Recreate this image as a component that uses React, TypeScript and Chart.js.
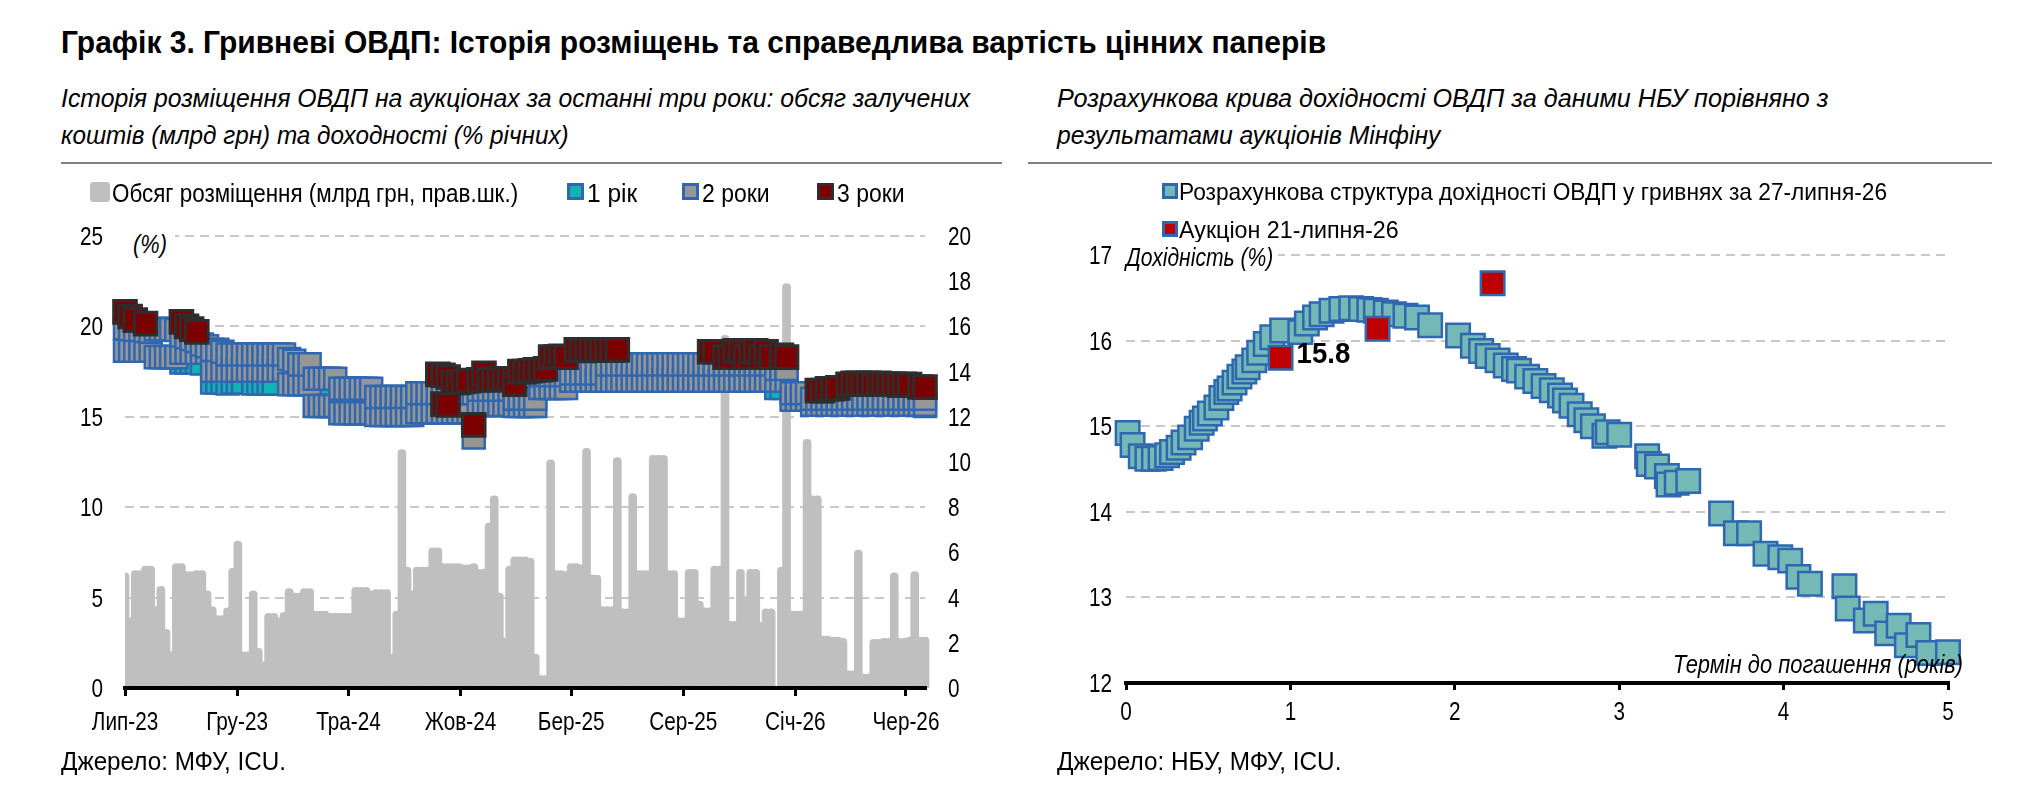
import React, { useEffect, useLayoutEffect, useRef } from 'react';
import { Chart, registerables } from 'chart.js';

Chart.register(...registerables);

const TEXT_FONT = "'Liberation Sans', Arial, sans-serif";
const TICK_SIZE = 25;
const TICK_SX = 0.83; // horizontal condensing of tick labels
const CAP_HALF = 9; // baseline offset that centres cap height on a pixel

// ---------- Left chart: auction history (weekly, starting July 2023) ----------
const monthTickWeeks = [0, 21.86, 43.57, 65.43, 87, 108.86, 130.71, 152.29];
const monthTickLabels = ['Лип-23', 'Гру-23', 'Тра-24', 'Жов-24', 'Бер-25', 'Сер-25', 'Січ-26', 'Чер-26'];

// Weekly placement volume, bn UAH (right axis); null = no auction that week
const placementVolume: (number | null)[] = [
  5.1, 3.1, 5.2, 5.2, 5.4, 5.4, 3.6, 4.5, 2.6, 1.6,
  5.5, 5.5, 5.15, 5.15, 5.2, 5.2, 4.3, 3.6, 3.2, 3.2,
  3.55, 5.3, 6.5, 1.6, 1.6, 4.3, 1.75, 1.15, 3.3, 3.3,
  3.1, 3.35, 4.4, 4.2, 4.2, 4.4, 4.4, 3.4, 3.4, 3.4,
  3.3, 3.3, 3.3, 3.3, 3.3, 4.45, 4.45, 4.45, 4.3, 4.35,
  4.35, 4.35, 1.5, 3.4, 10.55, 5.35, 4.3, 5.35, 5.35, 5.35,
  6.2, 6.2, 5.5, 5.5, 5.5, 5.5, 5.45, 5.45, 5.5, 5.25,
  5.25, 7.3, 8.5, 4.2, 2.2, 5.4, 5.8, 5.8, 5.8, 5.75,
  1.5, 0.55, 0.55, 10.1, 5.2, 5.2, 5.15, 5.5, 5.5, 5.45,
  10.6, 5.0, 5.0, 3.6, 3.6, 3.6, 10.2, 3.5, 3.5, 8.6,
  5.2, 5.2, 5.2, 10.3, 10.3, 10.3, 5.2, 5.2, 3.1, 3.1,
  5.25, 5.25, 3.85, 3.55, 3.55, 5.4, 5.4, 15.6, 2.95, 2.95,
  5.25, 4.05, 5.25, 5.25, 2.9, 3.5, 3.5, null, 5.35, 17.9,
  3.4, 3.4, 3.4, 11.0, 8.5, 8.5, 2.3, 2.3, 2.25, 2.25,
  2.2, 0.76, 0.76, 6.1, 0.62, 0.62, 2.15, 2.15, 2.2, 2.2,
  5.1, 2.2, 2.2, 2.25, 5.15, 2.25, 2.25,
];

// 2-year bonds: highest and lowest accepted yield each week, %
const yield2yHigh = [
  19.9, 19.85, 19.8, 19.8, 19.75, 19.7, 19.85, 19.85, 19.85, 19.85, 19.8,
  19.5, 19.4, 19.3, 19.2, 19.0, 18.9, 18.7, 18.7, 18.6, 18.45,
  18.45, 18.45, 18.45, 18.45, 18.45, 18.45, 18.45, 18.45, 18.45, 18.45, 18.45,
  18.2, 18.1, 17.9, 17.9, 17.9,
  17.1, 17.1, 17.1, 17.1, 17.1,
  16.55, 16.55, 16.55, 16.55, 16.55, 16.55, 16.55,
  16.1, 16.1, 16.1, 16.1, 16.1, 16.1, 16.1, 16.1,
  16.3, 16.3, 16.3, 16.3, 16.3, 16.3, 16.3, 16.3, 16.3, 16.3, 16.3,
  16.3,
  16.5, 16.5, 16.5, 16.5, 16.5, 16.5, 16.5,
  16.0, 16.0, 16.0, 16.0, 16.0,
  17.3, 17.3, 17.3, 17.3, 17.3, 17.3,
  17.4, 17.4, 17.4, 17.4, 17.4, 17.4, 17.4,
  17.9, 17.9, 17.9, 17.9, 17.9, 17.9, 17.9, 17.9, 17.9, 17.9, 17.9,
  17.9, 17.9, 17.9, 17.9, 17.9, 17.9, 17.9, 17.9, 17.9, 17.9, 17.9,
  17.9, 17.9, 17.9, 17.9, 17.9, 17.9, 17.9, 17.9, 17.9, 17.9, 17.9,
  17.65, 17.65, 17.65,
  16.3, 16.3, 16.3, 16.3,
  16.0, 16.0, 16.0, 16.0, 16.0, 16.0, 16.0, 16.0, 16.0, 16.0, 16.0, 16.0,
  16.0, 16.0, 16.0, 16.0, 16.0, 16.0, 16.0, 16.0, 16.0, 16.0, 16.0,
];
const yield2yLow = [
  18.65, 18.65, 18.65, 18.65, 18.65, 18.65,
  18.3, 18.3, 18.3, 18.3, 18.3,
  18.55, 18.55, 18.55, 18.55, 18.55, 18.55,
  17.55, 17.55, 17.55, 17.55, 17.55, 17.55, 17.55, 17.55, 17.55, 17.55, 17.55, 17.55, 17.55, 17.55, 17.55,
  16.8, 16.8, 16.8, 16.8, 16.8,
  15.6, 15.6, 15.6, 15.6, 15.6,
  15.2, 15.2, 15.2, 15.2, 15.2, 15.2, 15.2,
  15.1, 15.1, 15.1, 15.1, 15.1, 15.1, 15.1, 15.1,
  15.25, 15.25, 15.25, 15.25, 15.25, 15.25, 15.25, 15.25, 15.25, 15.25, 15.25,
  13.85,
  15.65, 15.65, 15.65, 15.65, 15.65, 15.65, 15.65,
  15.6, 15.6, 15.6, 15.6, 15.6,
  16.6, 16.6, 16.6, 16.6, 16.6, 16.6,
  17.0, 17.0, 17.0, 17.0, 17.0, 17.0, 17.0,
  17.0, 17.0, 17.0, 17.0, 17.0, 17.0, 17.0, 17.0, 17.0, 17.0, 17.0,
  17.0, 17.0, 17.0, 17.0, 17.0, 17.0, 17.0, 17.0, 17.0, 17.0, 17.0,
  17.0, 17.0, 17.0, 17.0, 17.0, 17.0, 17.0, 17.0, 17.0, 17.0, 17.0,
  17.0, 17.0, 17.0,
  15.95, 15.95, 15.95, 15.95,
  15.67, 15.67, 15.67, 15.67, 15.67, 15.67, 15.67, 15.67, 15.67, 15.67, 15.67, 15.67,
  15.67, 15.67, 15.67, 15.67, 15.67, 15.67, 15.67, 15.67, 15.67, 15.67, 15.67,
];

// 1-year bonds: [week, yield %]
const yield1y: [number, number][] = [
  [11, 18.0], [12, 18.0], [13, 18.0], [14, 18.0], [15, 17.95],
  [17, 16.9], [18, 16.9], [19, 16.9], [20, 16.85], [21, 16.9], [22, 16.9], [23, 16.9],
  [25, 16.85], [26, 16.85], [27, 16.85], [28, 16.85], [29, 16.85],
  [38, 15.9], [39, 15.9], [43, 15.4], [44, 15.4], [65, 15.4], [75, 16.6],
  [127, 16.6], [128, 16.6], [156, 15.6],
];

// 3-year bonds: [week, yield %]
const yield3y: [number, number][] = [
  [0, 20.8], [1, 20.55], [2, 20.35], [4, 20.15],
  [11, 20.25], [12, 20.0], [13, 19.85], [14, 19.7],
  [61, 17.35], [62, 17.3], [62, 15.7], [63, 17.2], [63, 15.65], [64, 16.9], [65, 16.9],
  [66, 16.95], [67, 17.0], [68, 14.55], [69, 17.05], [70, 17.4], [71, 17.05], [72, 17.05],
  [73, 17.1], [74, 17.1], [75, 17.1], [76, 16.8], [77, 17.5], [78, 17.5], [79, 17.55],
  [80, 17.6], [81, 17.6], [82, 17.65], [83, 18.3], [84, 18.3], [85, 18.35], [86, 18.3],
  [88, 18.7], [89, 18.7], [90, 18.7], [91, 18.7], [92, 18.7], [93, 18.7], [94, 18.7],
  [95, 18.7], [96, 18.7],
  [114, 18.6], [115, 18.6], [117, 18.3], [118, 18.3], [119, 18.65], [120, 18.6], [121, 18.3],
  [122, 18.6], [123, 18.65], [124, 18.3], [125, 18.6], [126, 18.3], [128, 18.4], [129, 18.3],
  [135, 16.45], [136, 16.45], [137, 16.55], [138, 16.55], [139, 16.6], [141, 16.8], [142, 16.85],
  [143, 16.85], [144, 16.8], [145, 16.85], [146, 16.8], [147, 16.85], [148, 16.8], [149, 16.8],
  [150, 16.8], [151, 16.75], [152, 16.8], [153, 16.78], [155, 16.65], [156, 16.64],
];

// ---------- Right chart: NBU fair-value yield curve vs. auction ----------
const curveTerm = [
  0.01, 0.04, 0.09, 0.13, 0.17, 0.21, 0.25, 0.28, 0.32, 0.35,
  0.39, 0.43, 0.46, 0.48, 0.51, 0.55, 0.58, 0.61, 0.63, 0.66,
  0.69, 0.72, 0.74, 0.78, 0.81, 0.85, 0.89, 0.95, 1.06, 1.10,
  1.15, 1.19, 1.25, 1.31, 1.37, 1.43, 1.48, 1.52, 1.58, 1.63,
  1.70, 1.77, 1.85, 2.02, 2.11, 2.16, 2.20, 2.26, 2.31, 2.36,
  2.39, 2.44, 2.49, 2.54, 2.59, 2.64, 2.67, 2.71, 2.76, 2.80,
  2.84, 2.91, 2.93, 3.00, 3.17, 3.18, 3.23, 3.29, 3.30, 3.35,
  3.42, 3.62, 3.71, 3.79, 3.89, 3.98, 4.04, 4.09, 4.16, 4.37,
  4.39, 4.50, 4.56, 4.63, 4.70, 4.75, 4.82, 4.88, 5.00,
];
const curveYield = [
  14.92, 14.78, 14.65, 14.62, 14.62, 14.63, 14.66, 14.7, 14.75, 14.81,
  14.87, 14.97, 15.04, 15.09, 15.15, 15.22, 15.33, 15.4, 15.44, 15.51,
  15.58, 15.64, 15.69, 15.77, 15.86, 15.96, 16.04, 16.12, 16.1, 16.2,
  16.27, 16.31, 16.35, 16.37, 16.38, 16.37, 16.36, 16.35, 16.33, 16.31,
  16.29, 16.27, 16.18, 16.06, 15.94, 15.88, 15.82, 15.77, 15.71, 15.67,
  15.65, 15.58, 15.53, 15.47, 15.42, 15.36, 15.3, 15.24, 15.14, 15.07,
  15.0, 14.89, 14.93, 14.9, 14.65, 14.56, 14.53, 14.42, 14.32, 14.34,
  14.36, 13.98, 13.75, 13.75, 13.51, 13.47, 13.43, 13.24, 13.16, 13.13,
  12.87, 12.73, 12.81, 12.58, 12.67, 12.44, 12.56, 12.35, 12.36,
];
const auctionTerm = [0.94, 1.53, 2.23];
const auctionYield = [15.8, 16.14, 16.67];

// ---------- palette ----------
const BAR_GREY = '#BFBFBF';
const BLUE_EDGE = '#2F67B1';
const TEAL_1Y = '#12B3B3';
const GREY_2Y = '#969696';
const RED_3Y = '#7B0000';
const DARK_EDGE = '#2E2E2E';
const CURVE_FILL = '#74B9B5';
const AUCTION_RED = '#C00000';
const GRID = '#C8C8C8';

// Draws tick labels slightly condensed, at the positions given by each scale
const condensedTicks = {
  id: 'condensedTicks',
  afterDraw(chart: any, _args: any, opts: any) {
    const ctx = chart.ctx;
    const area = chart.chartArea;
    ctx.save();
    ctx.fillStyle = '#000';
    ctx.font = `${TICK_SIZE}px ${TEXT_FONT}`;
    ctx.textBaseline = 'alphabetic';
    for (const spec of opts.axes) {
      const scale = chart.scales[spec.id];
      scale.ticks.forEach((tick: any, i: number) => {
        const label = spec.labels ? spec.labels[i] : String(tick.value);
        const p = scale.getPixelForValue(tick.value);
        let x = p;
        let y = area.bottom + spec.gap;
        let align = 'center';
        if (spec.side === 'left') {
          x = area.left - spec.gap;
          y = p + CAP_HALF;
          align = 'right';
        } else if (spec.side === 'right') {
          x = area.right + spec.gap;
          y = p + CAP_HALF;
          align = 'left';
        }
        ctx.save();
        ctx.translate(x, y);
        ctx.scale(TICK_SX, 1);
        ctx.textAlign = align;
        ctx.fillText(label, 0, 0);
        ctx.restore();
      });
    }
    ctx.restore();
  },
};

function makeLeftChart(canvas: HTMLCanvasElement) {
  const twoYear: { x: number; y: number }[] = [];
  yield2yLow.forEach((v, i) => {
    twoYear.push({ x: i, y: v });
    twoYear.push({ x: i, y: yield2yHigh[i] });
  });
  const bars = placementVolume
    .map((v, i) => (v == null ? null : { x: i, y: v }))
    .filter((p) => p !== null) as { x: number; y: number }[];

  return new Chart(canvas, {
    type: 'scatter',
    data: {
      datasets: [
        {
          type: 'bar',
          label: 'Обсяг розміщення (млрд грн, прав.шк.)',
          data: bars,
          yAxisID: 'y1',
          backgroundColor: BAR_GREY,
          barThickness: 8,
          borderRadius: { topLeft: 4, topRight: 4, bottomLeft: 0, bottomRight: 0 },
          borderSkipped: 'start',
          order: 4,
          clip: { left: 0, top: false, right: false, bottom: 0 },
        } as any,
        {
          type: 'scatter',
          label: '1 рік',
          data: yield1y.map(([x, y]) => ({ x, y })),
          yAxisID: 'y',
          pointStyle: 'rect',
          pointRadius: 15.6,
          pointBackgroundColor: TEAL_1Y,
          pointBorderColor: BLUE_EDGE,
          pointBorderWidth: 2.5,
          order: 3,
          clip: false,
        } as any,
        {
          type: 'scatter',
          label: '2 роки',
          data: twoYear,
          yAxisID: 'y',
          pointStyle: 'rect',
          pointRadius: 15.6,
          pointBackgroundColor: GREY_2Y,
          pointBorderColor: BLUE_EDGE,
          pointBorderWidth: 2.5,
          order: 2,
          clip: false,
        } as any,
        {
          type: 'scatter',
          label: '3 роки',
          data: yield3y.map(([x, y]) => ({ x, y })),
          yAxisID: 'y',
          pointStyle: 'rect',
          pointRadius: 16,
          pointBackgroundColor: RED_3Y,
          pointBorderColor: DARK_EDGE,
          pointBorderWidth: 3,
          order: 1,
          clip: false,
        } as any,
      ],
    },
    options: {
      responsive: false,
      animation: false,
      devicePixelRatio: 1,
      events: [],
      layout: { padding: { top: 36, left: 0, right: 0, bottom: 0 } },
      plugins: {
        legend: { display: false },
        tooltip: { enabled: false },
        condensedTicks: {
          axes: [
            { id: 'x', side: 'bottom', gap: 42, labels: monthTickLabels },
            { id: 'y', side: 'left', gap: 22 },
            { id: 'y1', side: 'right', gap: 23 },
          ],
        },
      },
      scales: {
        x: {
          type: 'linear',
          min: 0,
          max: 156,
          offset: false,
          afterBuildTicks: (axis: any) => {
            axis.ticks = monthTickWeeks.map((value) => ({ value }));
          },
          afterFit: (axis: any) => {
            axis.height = 72;
          },
          ticks: { display: false, autoSkip: false, maxRotation: 0, minRotation: 0 },
          grid: {
            display: true,
            offset: false,
            drawOnChartArea: false,
            drawTicks: true,
            tickLength: 8,
            color: '#000',
            lineWidth: 3,
          },
          border: { display: true, color: '#000', width: 4, z: 1 },
        },
        y: {
          position: 'left',
          min: 0,
          max: 25,
          afterFit: (axis: any) => {
            axis.width = 125;
          },
          ticks: { display: false, stepSize: 5 },
          grid: {
            color: (ctx: any) => (ctx.tick && ctx.tick.value === 0 ? 'rgba(0,0,0,0)' : GRID),
            lineWidth: 2,
            drawTicks: false,
          },
          border: { display: false, dash: [9, 6] },
        },
        y1: {
          position: 'right',
          min: 0,
          max: 20,
          afterFit: (axis: any) => {
            axis.width = 86;
          },
          ticks: { display: false, stepSize: 2 },
          grid: { display: false, drawTicks: false },
          border: { display: false },
        },
      },
    } as any,
    plugins: [condensedTicks],
  });
}

const auctionLabelPlugin = {
  id: 'auctionLabel',
  afterDatasetsDraw(chart: any) {
    const meta = chart.getDatasetMeta(1);
    const pt = meta.data[0];
    if (!pt) return;
    const ctx = chart.ctx;
    ctx.save();
    ctx.font = `bold 30px ${TEXT_FONT}`;
    ctx.fillStyle = '#000';
    ctx.textAlign = 'left';
    ctx.textBaseline = 'alphabetic';
    ctx.translate(pt.x + 16, pt.y + 5);
    ctx.scale(0.92, 1);
    ctx.fillText(auctionYield[0].toFixed(1), 0, 0);
    ctx.restore();
  },
};

function makeRightChart(canvas: HTMLCanvasElement) {
  return new Chart(canvas, {
    type: 'scatter',
    data: {
      datasets: [
        {
          label: 'Розрахункова структура дохідності ОВДП у гривнях за 27-липня-26',
          data: curveTerm.map((t, i) => ({ x: t, y: curveYield[i] })),
          pointStyle: 'rect',
          pointRadius: 16.6,
          pointBackgroundColor: CURVE_FILL,
          pointBorderColor: BLUE_EDGE,
          pointBorderWidth: 2.5,
          order: 2,
          clip: false,
        } as any,
        {
          label: 'Аукціон 21-липня-26',
          data: auctionTerm.map((t, i) => ({ x: t, y: auctionYield[i] })),
          pointStyle: 'rect',
          pointRadius: 16.6,
          pointBackgroundColor: AUCTION_RED,
          pointBorderColor: BLUE_EDGE,
          pointBorderWidth: 2.5,
          order: 1,
          clip: false,
        } as any,
      ],
    },
    options: {
      responsive: false,
      animation: false,
      devicePixelRatio: 1,
      events: [],
      layout: { padding: { top: 17, left: 0, right: 74, bottom: 0 } },
      plugins: {
        legend: { display: false },
        tooltip: { enabled: false },
        condensedTicks: {
          axes: [
            { id: 'x', side: 'bottom', gap: 37 },
            { id: 'y', side: 'left', gap: 14 },
          ],
        },
      },
      scales: {
        x: {
          type: 'linear',
          min: 0,
          max: 5,
          afterFit: (axis: any) => {
            axis.height = 77;
          },
          ticks: { display: false, stepSize: 1 },
          grid: {
            drawOnChartArea: false,
            drawTicks: true,
            tickLength: 7,
            color: '#000',
            lineWidth: 3,
          },
          border: { display: true, color: '#000', width: 4, z: 1 },
        },
        y: {
          min: 12,
          max: 17,
          afterFit: (axis: any) => {
            axis.width = 115;
          },
          ticks: { display: false, stepSize: 1 },
          grid: {
            color: (ctx: any) => (ctx.tick && ctx.tick.value === 12 ? 'rgba(0,0,0,0)' : GRID),
            lineWidth: 2,
            drawTicks: false,
          },
          border: { display: false, dash: [9, 6] },
        },
      },
    } as any,
    plugins: [auctionLabelPlugin, condensedTicks],
  });
}

type TextProps = {
  x: number;
  cy: number;
  size: number;
  w?: number;
  bold?: boolean;
  italic?: boolean;
  children: React.ReactNode;
};

// Absolutely placed text, condensed horizontally to the given width
function Text({ x, cy, size, w, bold, italic, children }: TextProps) {
  const ref = useRef<HTMLSpanElement>(null);
  useLayoutEffect(() => {
    const el = ref.current;
    if (!el || !w) return;
    const natural = el.offsetWidth;
    if (natural > 0) el.style.transform = `scaleX(${w / natural})`;
  }, [w]);
  const lh = Math.round(size * 1.2);
  return (
    <span
      ref={ref}
      style={{
        position: 'absolute',
        left: x,
        top: cy - lh / 2,
        height: lh,
        lineHeight: `${lh}px`,
        fontSize: size,
        fontFamily: TEXT_FONT,
        fontWeight: bold ? 700 : 400,
        fontStyle: italic ? 'italic' : 'normal',
        whiteSpace: 'nowrap',
        display: 'inline-block',
        color: '#000',
        transformOrigin: 'left center',
      }}
    >
      {children}
    </span>
  );
}

function Box({ x, y, w, h, fill, edge, edgeWidth = 0, radius = 0 }: any) {
  return (
    <div
      style={{
        position: 'absolute',
        left: x,
        top: y,
        width: w,
        height: h,
        boxSizing: 'border-box',
        background: fill,
        border: edge ? `${edgeWidth}px solid ${edge}` : 'none',
        borderRadius: radius,
      }}
    />
  );
}

export default function App() {
  const leftRef = useRef<HTMLCanvasElement>(null);
  const rightRef = useRef<HTMLCanvasElement>(null);

  useEffect(() => {
    const left = makeLeftChart(leftRef.current!);
    const right = makeRightChart(rightRef.current!);
    return () => {
      left.destroy();
      right.destroy();
    };
  }, []);

  return (
    <div
      style={{
        position: 'absolute',
        left: 0,
        top: 0,
        width: 2022,
        height: 802,
        overflow: 'hidden',
        background: '#fff',
      }}
    >
      <canvas
        ref={leftRef}
        width={1011}
        height={560}
        style={{ position: 'absolute', left: 0, top: 200, width: 1011, height: 560 }}
      />
      <canvas
        ref={rightRef}
        width={1011}
        height={524}
        style={{ position: 'absolute', left: 1011, top: 236, width: 1011, height: 524 }}
      />

      <Text x={61} cy={42} size={31} w={1265} bold>
        Графік 3. Гривневі ОВДП: Історія розміщень та справедлива вартість цінних паперів
      </Text>

      <Text x={61} cy={98} size={26} w={909} italic>
        Історія розміщення ОВДП на аукціонах за останні три роки: обсяг залучених
      </Text>
      <Text x={61} cy={135} size={26} w={508} italic>
        коштів (млрд грн) та доходності (% річних)
      </Text>
      <Text x={1057} cy={98} size={26} w={772} italic>
        Розрахункова крива дохідності ОВДП за даними НБУ порівняно з
      </Text>
      <Text x={1057} cy={135} size={26} w={383} italic>
        результатами аукціонів Мінфіну
      </Text>

      <Box x={61} y={162} w={941} h={2} fill="#808080" />
      <Box x={1028} y={162} w={964} h={2} fill="#808080" />

      {/* left legend */}
      <Box x={90} y={182} w={20} h={20} fill={BAR_GREY} radius={3} />
      <Text x={112} cy={193} size={25} w={406}>Обсяг розміщення (млрд грн, прав.шк.)</Text>
      <Box x={567} y={183} w={17} h={17} fill={TEAL_1Y} edge={BLUE_EDGE} edgeWidth={3} />
      <Text x={587} cy={193} size={25} w={50}>1 рік</Text>
      <Box x={682} y={183} w={17} h={17} fill={GREY_2Y} edge={BLUE_EDGE} edgeWidth={3} />
      <Text x={702} cy={193} size={25} w={68}>2 роки</Text>
      <Box x={817} y={183} w={17} h={17} fill={RED_3Y} edge={DARK_EDGE} edgeWidth={3} />
      <Text x={837} cy={193} size={25} w={68}>3 роки</Text>

      <Box x={125} y={229} w={50} h={30} fill="#fff" />
      <Text x={133} cy={244} size={25} w={34} italic>(%)</Text>

      {/* right legend */}
      <Box x={1162} y={183} w={16} h={16} fill={CURVE_FILL} edge={BLUE_EDGE} edgeWidth={3} />
      <Text x={1179} cy={191} size={24} w={708}>
        Розрахункова структура дохідності ОВДП у гривнях за 27-липня-26
      </Text>
      <Box x={1162} y={221} w={16} h={16} fill={AUCTION_RED} edge={BLUE_EDGE} edgeWidth={3} />
      <Text x={1179} cy={229} size={24} w={220}>Аукціон 21-липня-26</Text>

      <Box x={1122} y={242} w={156} h={30} fill="#fff" />
      <Text x={1126} cy={257} size={25} w={147} italic>Дохідність (%)</Text>
      <Text x={1673} cy={664} size={25} w={290} italic>Термін до погашення (років)</Text>

      <Text x={61} cy={761} size={25} w={225}>Джерело: МФУ, ICU.</Text>
      <Text x={1057} cy={761} size={25} w={284}>Джерело: НБУ, МФУ, ICU.</Text>
    </div>
  );
}
